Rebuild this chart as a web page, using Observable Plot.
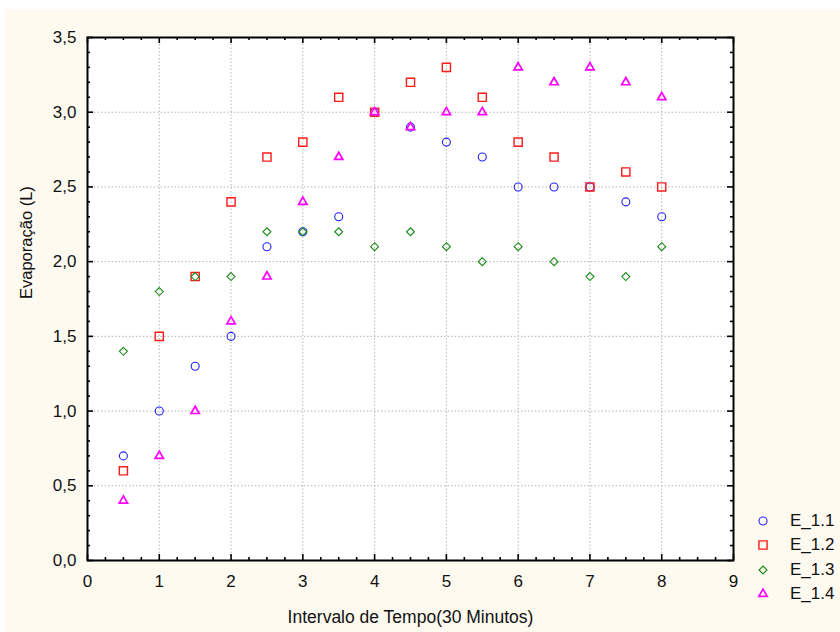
<!DOCTYPE html>
<html>
<head>
<meta charset="utf-8">
<script src="https://cdn.jsdelivr.net/npm/d3@7"></script>
<script src="https://cdn.jsdelivr.net/npm/@observablehq/plot@0.6"></script>
<style>
html,body{margin:0;padding:0;background:#ffffff;}
#wrap{position:relative;width:840px;height:632px;overflow:hidden;}
#bg{position:absolute;left:5px;top:9px;right:0;bottom:0;background:#fefaf0;}
#chart{position:absolute;left:0;top:0;}
#legend{position:absolute;left:751px;top:509px;font-family:"Liberation Sans",Arial,sans-serif;font-size:17px;color:#111;}
#legend .row{display:flex;align-items:center;height:24.3px;}
#legend svg{width:24px;height:24px;margin-right:15px;}
</style>
</head>
<body>
<div id="wrap"><div id="bg"></div><div id="chart"></div><div id="legend"></div></div>
<script>
// ---- data ----
const times = [0.5, 1, 1.5, 2, 2.5, 3, 3.5, 4, 4.5, 5, 5.5, 6, 6.5, 7, 7.5, 8];
const e11 = [0.7, 1.0, 1.3, 1.5, 2.1, 2.2, 2.3, 3.0, 2.9, 2.8, 2.7, 2.5, 2.5, 2.5, 2.4, 2.3];
const e12 = [0.6, 1.5, 1.9, 2.4, 2.7, 2.8, 3.1, 3.0, 3.2, 3.3, 3.1, 2.8, 2.7, 2.5, 2.6, 2.5];
const e13 = [1.4, 1.8, 1.9, 1.9, 2.2, 2.2, 2.2, 2.1, 2.2, 2.1, 2.0, 2.1, 2.0, 1.9, 1.9, 2.1];
const e14 = [0.4, 0.7, 1.0, 1.6, 1.9, 2.4, 2.7, 3.0, 2.9, 3.0, 3.0, 3.3, 3.2, 3.3, 3.2, 3.1];
const seriesNames = ["E_1.1", "E_1.2", "E_1.3", "E_1.4"];
const xTicks = [0, 1, 2, 3, 4, 5, 6, 7, 8, 9];
const xMinorTicks = [0.25,0.5,0.75,1.25,1.5,1.75,2.25,2.5,2.75,3.25,3.5,3.75,4.25,4.5,4.75,5.25,5.5,5.75,6.25,6.5,6.75,7.25,7.5,7.75,8.25,8.5,8.75];
const yTicks = [0, 0.5, 1.0, 1.5, 2.0, 2.5, 3.0, 3.5];
const yTickLabels = ["0,0", "0,5", "1,0", "1,5", "2,0", "2,5", "3,0", "3,5"];
const yMinorTicks = [0.1,0.2,0.3,0.4,0.6,0.7,0.8,0.9,1.1,1.2,1.3,1.4,1.6,1.7,1.8,1.9,2.1,2.2,2.3,2.4,2.6,2.7,2.8,2.9,3.1,3.2,3.3,3.4];
const xLabel = "Intervalo de Tempo(30 Minutos)";
const yLabel = "Evaporação (L)";

// ---- styles ----
const colors = ["#2020ff", "#ff1a1a", "#1a8a1a", "#ff00ff"];
const symbols = ["circle", "square", "diamond2", "triangle"];
const radii = [4, 4.6, 3.6, 3.1];
const widths = [1.1, 1.4, 1.1, 1.7];

const W = 840, H = 632, mL = 87, mT = 37, mR = 107, mB = 72;
const innerW = W - mL - mR, innerH = H - mT - mB;
const font = "'Liberation Sans', Arial, sans-serif";

const table = (vals) => times.map((t, i) => ({t, v: vals[i]}));
const allSeries = [e11, e12, e13, e14];

const dotMarks = allSeries.map((vals, i) =>
  Plot.dot(table(vals), {x: "t", y: "v", symbol: () => symbols[i], r: radii[i], stroke: colors[i], strokeWidth: widths[i], fill: "none"})
);

const grid = {stroke: "#b5b5b5", strokeOpacity: 1, strokeWidth: 1, strokeDasharray: "1.5,2"};
const tk = {stroke: "#000", strokeWidth: 1.6};

const plot = Plot.plot({
  width: W, height: H,
  marginLeft: mL, marginTop: mT, marginRight: mR, marginBottom: mB,
  style: {background: "transparent", fontFamily: font, fontSize: "17px", color: "#111", overflow: "visible"},
  x: {domain: [0, 9]},
  y: {domain: [0, 3.5]},
  symbol: {type: "identity"},
  marks: [
    Plot.frame({fill: "white", stroke: null}),
    Plot.gridX(xTicks.filter(d => d > 0 && d < 9), grid),
    Plot.gridY(yTicks.filter(d => d > 0 && d < 3.5), grid),
    // inward ticks: bottom/top
    Plot.tickX(xTicks, {x: d => d, insetTop: innerH - 6, ...tk}),
    Plot.tickX(xTicks, {x: d => d, insetBottom: innerH - 6, ...tk}),
    Plot.tickX(xMinorTicks, {x: d => d, insetTop: innerH - 3, ...tk}),
    Plot.tickX(xMinorTicks, {x: d => d, insetBottom: innerH - 3, ...tk}),
    // inward ticks: left/right
    Plot.tickY(yTicks, {y: d => d, insetRight: innerW - 6, ...tk}),
    Plot.tickY(yTicks, {y: d => d, insetLeft: innerW - 6, ...tk}),
    Plot.tickY(yMinorTicks, {y: d => d, insetRight: innerW - 3, ...tk}),
    Plot.tickY(yMinorTicks, {y: d => d, insetLeft: innerW - 3, ...tk}),
    Plot.frame({stroke: "#000", strokeWidth: 2}),
    Plot.axisX({ticks: xTicks, tickSize: 0, tickPadding: 14, tickFormat: d => String(d), label: null, fontSize: 17}),
    Plot.axisY({ticks: yTicks, tickSize: 0, tickPadding: 11, tickFormat: (d, i) => yTickLabels[yTicks.indexOf(d)], label: null, fontSize: 17}),
    Plot.text([xLabel], {text: d => d, frameAnchor: "bottom", lineAnchor: "middle", dy: 57, fontSize: 17.5, fill: "#111"}),
    Plot.text([yLabel], {text: d => d, frameAnchor: "left", dx: -61, rotate: -90, fontSize: 16.5, fill: "#111"}),
    ...dotMarks
  ]
});
document.getElementById("chart").appendChild(plot);

// legend
const legend = document.getElementById("legend");
const d3sym = {circle: d3.symbolCircle, square: d3.symbolSquare, diamond2: d3.symbolDiamond2, triangle: d3.symbolTriangle};
seriesNames.forEach((name, i) => {
  const row = document.createElement("div");
  row.className = "row";
  const sym = d3.symbol(d3sym[symbols[i]], Math.PI * radii[i] * radii[i])();
  row.innerHTML = `<svg viewBox="-12 -12 24 24"><path d="${sym}" fill="none" stroke="${colors[i]}" stroke-width="${widths[i]}"/></svg><span>${name}</span>`;
  legend.appendChild(row);
});
</script>
</body>
</html>
